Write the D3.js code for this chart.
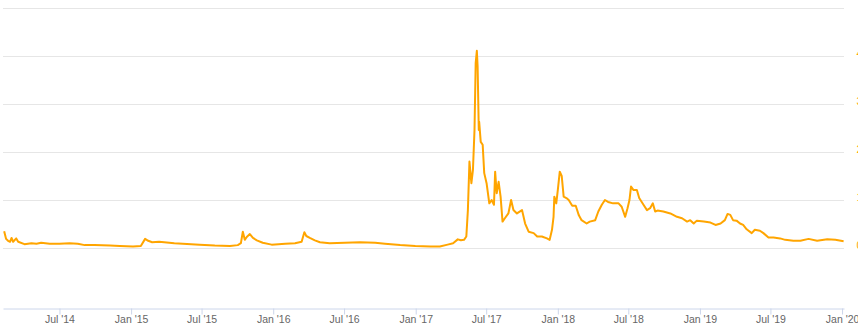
<!DOCTYPE html>
<html><head><meta charset="utf-8">
<script src="https://cdn.jsdelivr.net/npm/d3@7"></script>
<style>body{margin:0;background:#fff}svg{display:block}</style>
</head><body>
<svg id="c" width="858" height="326"></svg>
<script>
const dates = ["2014-02-09","2014-02-14","2014-02-19","2014-02-24","2014-02-28","2014-03-04","2014-03-12","2014-03-17","2014-04-02","2014-04-20",
"2014-05-03","2014-05-15","2014-06-06","2014-07-01","2014-07-27","2014-08-17","2014-09-04","2014-09-29","2014-11-08","2014-12-03",
"2015-01-06","2015-01-26","2015-02-06","2015-02-14","2015-02-24","2015-03-14","2015-04-22","2015-06-26","2015-08-04","2015-09-12",
"2015-10-02","2015-10-10","2015-10-15","2015-10-20","2015-10-25","2015-11-02","2015-11-10","2015-11-20","2015-12-05","2015-12-28",
"2016-02-01","2016-02-26","2016-03-14","2016-03-21","2016-03-26","2016-04-04","2016-04-17","2016-04-30","2016-05-25","2016-07-03",
"2016-08-11","2016-09-19","2016-10-14","2016-11-22","2016-12-31","2017-02-08","2017-03-04","2017-03-24","2017-04-07","2017-04-19",
"2017-04-27","2017-05-05","2017-05-11","2017-05-15","2017-05-19","2017-05-24","2017-05-28","2017-06-01","2017-06-04","2017-06-07",
"2017-06-09","2017-06-12","2017-06-13","2017-06-17","2017-06-22","2017-06-26","2017-07-02","2017-07-09","2017-07-15","2017-07-21",
"2017-07-24","2017-07-28","2017-08-02","2017-08-07","2017-08-12","2017-08-18","2017-08-27","2017-09-03","2017-09-09","2017-09-18",
"2017-10-01","2017-10-09","2017-10-18","2017-10-31","2017-11-09","2017-11-21","2017-12-04","2017-12-11","2017-12-17","2017-12-21",
"2017-12-23","2017-12-28","2018-01-01","2018-01-06","2018-01-11","2018-01-16","2018-01-23","2018-01-29","2018-02-07","2018-02-16",
"2018-02-24","2018-03-03","2018-03-16","2018-03-24","2018-04-07","2018-04-15","2018-04-24","2018-05-02","2018-05-10","2018-05-23",
"2018-06-06","2018-06-14","2018-06-23","2018-06-29","2018-07-04","2018-07-08","2018-07-14","2018-07-23","2018-07-29","2018-08-09",
"2018-08-18","2018-08-26","2018-09-02","2018-09-08","2018-09-14","2018-09-29","2018-10-17","2018-11-03","2018-11-16","2018-11-29",
"2018-12-07","2018-12-16","2018-12-24","2019-01-11","2019-01-28","2019-02-10","2019-02-23","2019-03-06","2019-03-13","2019-03-20",
"2019-03-27","2019-04-05","2019-04-14","2019-04-22","2019-05-01","2019-05-14","2019-05-22","2019-06-04","2019-06-13","2019-06-26",
"2019-07-09","2019-07-26","2019-08-08","2019-08-29","2019-09-16","2019-10-07","2019-10-29","2019-11-24","2019-12-15","2020-01-05"];
const values = [0.35,0.19,0.15,0.13,0.21,0.13,0.20,0.13,0.08,0.10,
0.09,0.11,0.09,0.09,0.10,0.09,0.06,0.06,0.05,0.04,
0.03,0.04,0.19,0.15,0.12,0.13,0.10,0.07,0.05,0.04,
0.06,0.10,0.34,0.17,0.23,0.29,0.21,0.16,0.11,0.07,
0.09,0.10,0.13,0.33,0.25,0.21,0.16,0.12,0.10,0.11,
0.12,0.11,0.09,0.06,0.04,0.03,0.03,0.07,0.10,0.18,
0.16,0.17,0.24,0.79,1.80,1.35,1.63,2.46,3.85,4.11,
3.78,2.46,2.63,2.21,2.15,1.56,1.35,0.93,1.00,0.90,
1.59,1.14,1.38,1.07,0.55,0.62,0.72,1.00,0.79,0.72,
0.79,0.51,0.34,0.31,0.24,0.24,0.20,0.17,0.38,0.65,
1.07,0.93,1.21,1.59,1.50,1.07,1.04,1.00,0.88,0.88,
0.68,0.58,0.51,0.55,0.58,0.76,0.90,1.00,0.96,0.93,
0.93,0.86,0.65,0.83,1.00,1.28,1.21,1.21,1.04,0.90,
0.79,0.83,0.93,0.76,0.78,0.76,0.72,0.65,0.62,0.55,
0.58,0.51,0.57,0.55,0.53,0.48,0.51,0.58,0.71,0.69,
0.58,0.57,0.51,0.48,0.39,0.31,0.38,0.36,0.31,0.22,
0.22,0.20,0.17,0.15,0.15,0.19,0.15,0.18,0.17,0.14];
const xTicks = ["2014-07-01","2015-01-01","2015-07-01","2016-01-01","2016-07-01","2017-01-01","2017-07-01","2018-01-01","2018-07-01","2019-01-01","2019-07-01","2020-01-01"];
const gridValues = [0,1,2,3,4,5];
const yLabels = ["0","1","2","3","4"];
const xDomain = ["2014-02-06","2020-01-06"];
const yDomain = [-1.25, 5];

const parse = d3.utcParse("%Y-%m-%d");
const svg = d3.select("#c");
const L = 3, R = 844, T = 8, B = 308;
const x = d3.scaleUtc().domain(xDomain.map(parse)).range([L, R]);
const y = d3.scaleLinear().domain(yDomain).range([B, T]);

svg.append("rect").attr("width",858).attr("height",326).attr("fill","#fff");

svg.append("g").selectAll("line").data(gridValues).join("line")
  .attr("x1",L).attr("x2",R)
  .attr("y1",d=>Math.round(y(d))+0.5).attr("y2",d=>Math.round(y(d))+0.5)
  .attr("stroke","#e6e6e6").attr("stroke-width",1);

const xAxis = d3.axisBottom(x).tickValues(xTicks.map(parse))
  .tickFormat(d3.utcFormat("%b '%y")).tickSize(6).tickSizeOuter(0);
const gx = svg.append("g").attr("transform",`translate(0,${B+0.5})`).call(xAxis);
gx.select(".domain").attr("stroke","#ccd6eb");
gx.selectAll(".tick line").attr("stroke","#ccd6eb");
gx.selectAll(".tick text").attr("fill","#666").attr("font-size","10.5px")
  .attr("font-family","'Liberation Sans', Arial, sans-serif").attr("dy",null).attr("y",14.5);

svg.append("g").selectAll("text").data(yLabels).join("text")
  .attr("x",856.5).attr("y",(d,i)=>y(+d)+1)
  .attr("fill","#ffa500")
  .attr("font-size","11px").attr("font-family","'Liberation Sans', Arial, sans-serif")
  .text(d=>d);

const data = dates.map((d,i)=>({d:parse(d), v:values[i]}));
svg.append("path").datum(data)
  .attr("fill","none").attr("stroke","#ffa500").attr("stroke-width",2)
  .attr("stroke-linejoin","round")
  .attr("d", d3.line().x(p=>x(p.d)).y(p=>y(p.v)));
</script>
</body></html>
